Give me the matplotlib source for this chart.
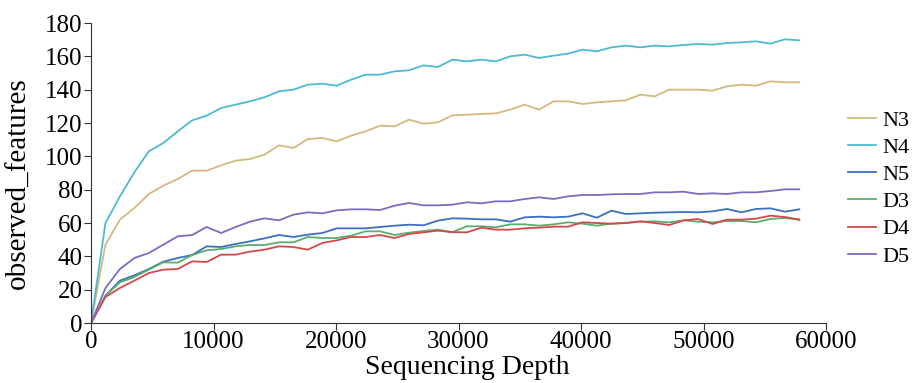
import matplotlib.pyplot as plt

plt.rcParams['font.family'] = ['Liberation Serif', 'DejaVu Serif']

# sequencing depths (50 steps)
depths = [1, 1181, 2361, 3541, 4721, 5901, 7081, 8261, 9441, 10621,
          11801, 12981, 14161, 15341, 16521, 17701, 18881, 20061, 21241, 22421,
          23601, 24781, 25961, 27141, 28321, 29501, 30681, 31861, 33041, 34221,
          35401, 36581, 37761, 38941, 40121, 41301, 42481, 43661, 44841, 46021,
          47201, 48381, 49561, 50741, 51921, 53101, 54281, 55461, 56641, 57821]

N3 = [0, 47, 62, 69, 77.4, 82.4, 86.4, 91.4, 91.4, 94.6,
      97.4, 98.4, 101, 106.6, 105, 110.4, 111, 109, 112.4, 115,
      118.4, 118, 122, 119.6, 120.4, 124.6, 125, 125.4, 125.8, 128,
      131, 128, 133, 133, 131.4, 132.4, 133, 133.6, 137, 136,
      140, 140, 140, 139.4, 142, 143, 142.4, 145, 144.4, 144.4]
N4 = [0, 60, 76, 90.4, 103, 108, 115, 121.6, 124.4, 129,
      131, 133, 135.4, 139, 140, 143, 143.6, 142.4, 146, 149,
      149, 151, 151.6, 154.6, 153.6, 158, 157, 158, 157, 160,
      161, 159, 160.4, 161.6, 164, 163, 165.4, 166.4, 165.4, 166.4,
      166, 166.8, 167.4, 167, 168, 168.4, 169, 167.6, 170.2, 169.6]
N5 = [0, 16.4, 25.4, 28.6, 32.4, 36.8, 39, 40.8, 46, 45.6,
      47.4, 49, 50.8, 52.8, 51.6, 53, 54, 56.8, 56.8, 56.8,
      57.6, 58.4, 59, 58.6, 61.4, 62.8, 62.6, 62.2, 62.2, 60.8,
      63.4, 63.8, 63.4, 63.8, 65.8, 63.2, 67.4, 65.4, 65.8, 66.2,
      66.4, 66.6, 66.4, 67, 68.4, 66.4, 68.4, 68.8, 66.8, 68.2]
D3 = [0, 16.4, 24.4, 27.6, 32, 36.4, 36.2, 40.8, 43.6, 44.4,
      46, 46.8, 46.8, 48.4, 48.4, 51.6, 51, 51, 52.4, 55,
      55, 52.8, 54.2, 55.2, 56, 54.5, 58, 58, 57.4, 59.2,
      59.2, 58.4, 59.2, 60.4, 59.6, 58.4, 59.6, 60, 60.8, 61,
      60.4, 61.6, 60.8, 60.4, 61.2, 61.2, 60.4, 62.4, 63, 62]
D4 = [0, 15.6, 21, 25.4, 30, 32, 32.4, 37, 36.6, 41,
      41, 42.8, 44, 46, 45.6, 44, 48, 49.6, 51.6, 51.6,
      52.8, 51, 53.4, 54.4, 55.4, 54.5, 54.4, 57.2, 56, 56,
      56.8, 57.2, 57.8, 57.8, 60.4, 60, 59.6, 60, 61, 60,
      58.8, 61.6, 62.4, 59.4, 62, 62, 62.6, 64.4, 63.6, 62]
D5 = [0, 21, 32.4, 39, 42, 47, 52, 52.8, 57.6, 54,
      57.6, 60.8, 62.8, 61.6, 65, 66.4, 65.8, 67.6, 68.2, 68.2,
      67.8, 70.4, 72, 70.6, 70.6, 71, 72.4, 71.8, 73, 73,
      74.4, 75.4, 74.4, 76, 76.8, 76.8, 77.2, 77.4, 77.4, 78.4,
      78.4, 78.8, 77.4, 77.8, 77.4, 78.4, 78.4, 79.2, 80.2, 80.2]

names = ['N3', 'N4', 'N5', 'D3', 'D4', 'D5']
series = [N3, N4, N5, D3, D4, D5]
colors = ['#d3b97d', '#4fb9d3', '#3d6fbf', '#5aae6b', '#d4484b', '#7a6cc1']

fig = plt.figure(figsize=(9.15, 3.83), dpi=100)
ax = fig.add_axes([91 / 915, 60 / 383, 735 / 915, 300 / 383])

for name, vals, c in zip(names, series, colors):
    ax.plot(depths, vals, color=c, lw=1.3, label=name)

ax.set_xlim(0, 60000)
ax.set_ylim(0, 180)
ax.set_xticks(range(0, 60001, 10000))
ax.set_yticks(range(0, 181, 20))

ax.spines['top'].set_visible(False)
ax.spines['right'].set_visible(False)
ax.spines['left'].set_color('#333333')
ax.spines['bottom'].set_color('#333333')
ax.tick_params(axis='both', labelsize=18, length=5, color='#333333', pad=1)

ax.set_xlabel('Sequencing Depth', fontsize=20)
ax.set_ylabel('observed_features', fontsize=21)
ax.yaxis.set_label_coords(-0.08, 0.465)
ax.xaxis.set_label_coords(0.512, -0.108)
ax.xaxis.label.set_va('top')

# legend outside on the right
fig.legend(loc='upper left', bbox_to_anchor=(848 / 915, 1 - 110 / 383),
           frameon=False, fontsize=16, handlelength=1.27, handletextpad=0.26,
           labelspacing=0.3, borderaxespad=0, borderpad=0)

plt.savefig('out.png', dpi=100)
